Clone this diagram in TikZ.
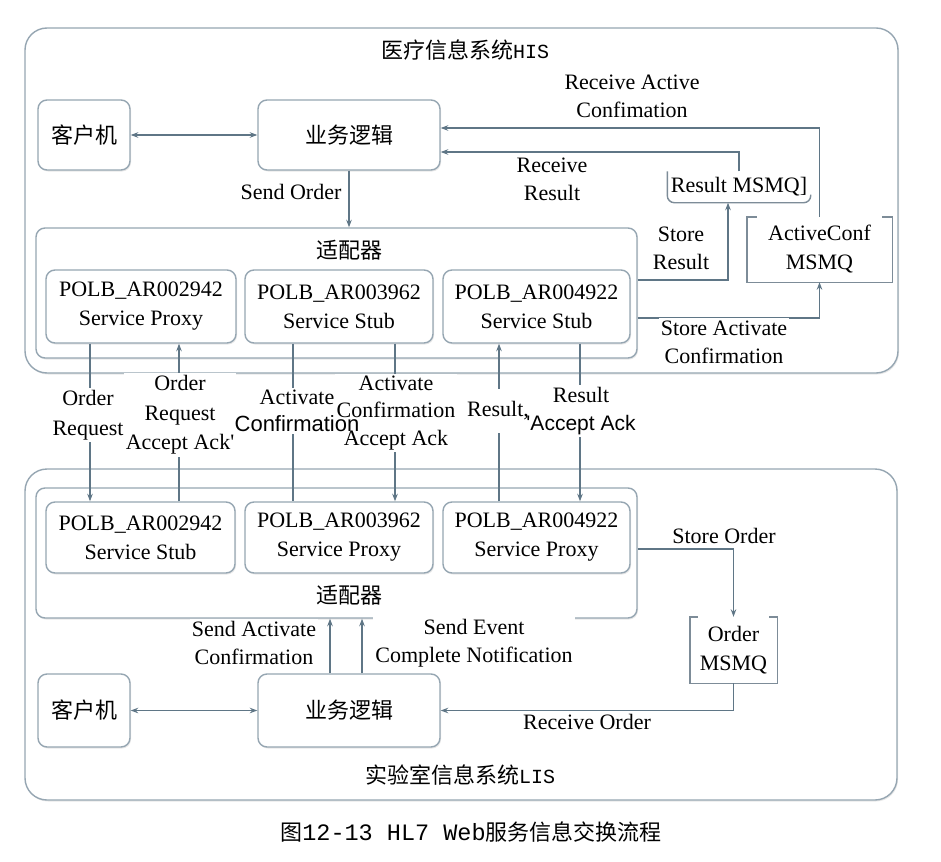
\documentclass[tikz,border=0pt]{standalone}
\usepackage{fontspec}
\setmainfont{Liberation Serif}
\setsansfont{Liberation Sans}
\setmonofont{Liberation Mono}
\newfontfamily\cjk{Noto Sans CJK SC}
\usetikzlibrary{arrows.meta,shadows}
\pgfdeclarelayer{bg}
\pgfsetlayers{bg,main}
\definecolor{boxc}{RGB}{150,166,178}
\definecolor{boxd}{RGB}{125,140,152}
\definecolor{linec}{RGB}{95,118,134}
\begin{document}
\begin{tikzpicture}[x=1pt,y=-1pt,
  box/.style={draw=boxc, fill=white, line width=1.4pt, rounded corners=9pt, inner sep=0pt, align=center,
    font=\fontsize{22}{29}\selectfont, drop shadow={shadow xshift=1pt, shadow yshift=-1.5pt, opacity=0.18}},
  outer/.style={box, rounded corners=22pt},
  plain/.style={inner sep=0pt, align=center, font=\fontsize{22}{29}\selectfont},
  lbl/.style={align=center, inner sep=2pt, font=\fontsize{22}{28}\selectfont},
  arr/.style={draw=linec, line width=1.2pt, -{Stealth[length=7.5pt,width=5.5pt]}},
  darr/.style={draw=linec, line width=1.2pt, {Stealth[length=7.5pt,width=5.5pt]}-{Stealth[length=7.5pt,width=5.5pt]}},
  ln/.style={draw=linec, line width=1.2pt},
  msq/.style={draw=boxd, line width=1.4pt}]
\useasboundingbox (0,0) rectangle (941,861);

\begin{pgfonlayer}{bg}
% outer systems
\node[outer, minimum width=873pt, minimum height=345pt] (his) at (461.5,200.5) {};
\node[outer, minimum width=872pt, minimum height=331pt] (lis) at (461,634.5) {};
% HIS
\node[box, minimum width=92pt, minimum height=70pt] (c1) at (84,135) {\cjk 客户机};
\node[box, minimum width=182pt, minimum height=70pt] (b1) at (349,135) {\cjk 业务逻辑};
\node[box, minimum width=601pt, minimum height=130pt] (ad1) at (336.5,293) {};
\node[box, minimum width=190pt, minimum height=73pt] (p1a) at (141,306.5) {POLB\_AR002942\\Service Proxy};
\node[box, minimum width=188pt, minimum height=73pt] (p1b) at (339,306.5) {POLB\_AR003962\\Service Stub};
\node[box, minimum width=187pt, minimum height=73pt] (p1c) at (536.5,306.5) {POLB\_AR004922\\Service Stub};
\node[plain, minimum width=143pt, minimum height=31pt] (rmq) at (739,187) {Result MSMQ]};
\node[plain, minimum width=145pt, minimum height=65pt] (acq) at (819.5,249.5) {ActiveConf\\MSMQ};
% LIS
\node[box, minimum width=601pt, minimum height=130pt] (ad2) at (336.5,553) {};
\node[box, minimum width=189pt, minimum height=71pt] (q1a) at (140.5,537.5) {POLB\_AR002942\\Service Stub};
\node[box, minimum width=188pt, minimum height=71pt] (q1b) at (339,537.5) {POLB\_AR003962\\Service Proxy};
\node[box, minimum width=187pt, minimum height=71pt] (q1c) at (536.5,537.5) {POLB\_AR004922\\Service Proxy};
\node[plain, minimum width=87pt, minimum height=66pt] (omq) at (733.5,650) {Order\\MSMQ};
\node[box, minimum width=92pt, minimum height=73pt] (c2) at (84,710.5) {\cjk 客户机};
\node[box, minimum width=182pt, minimum height=73pt] (b2) at (349,710.5) {\cjk 业务逻辑};

% queue shapes
\draw[msq, rounded corners=7pt] (rmq.north west) -- (rmq.south west) -- (rmq.south east) -- ([yshift=8pt]rmq.south east);
\draw[msq] ([xshift=10pt]acq.north west) -- (acq.north west) -- (acq.south west) -- (acq.south east) -- (acq.north east) -- ([xshift=-10pt]acq.north east);
\draw[msq] ([xshift=8pt]omq.north west) -- (omq.north west) -- (omq.south west) -- (omq.south east) -- (omq.north east) -- ([xshift=-8pt]omq.north east);

% connectors HIS
\draw[darr] (c1) -- (b1);
\draw[arr] (acq.north) |- ([yshift=7pt]b1.east);
\draw[arr] (rmq.north) |- ([yshift=-17pt]b1.east);
\draw[arr] (b1.south) -- (b1.south |- ad1.north);
\draw[arr] ([yshift=13pt]ad1.east) -| ([xshift=-11pt]rmq.south);
\draw[arr] ([yshift=-25pt]ad1.east) -| (acq.south);

% connectors between systems
\coordinate (v1) at (90,0);
\coordinate (v2) at (179,0);
\coordinate (v3) at (293,0);
\coordinate (v4) at (395,0);
\coordinate (v5) at (499,0);
\coordinate (v6) at (580,0);
\draw[arr] (v1 |- p1a.south) -- (v1 |- q1a.north);
\draw[arr] (v2 |- q1a.north) -- (v2 |- p1a.south);
\draw[ln]  (v3 |- p1b.south) -- (v3 |- q1b.north);
\draw[arr] (v4 |- p1b.south) -- (v4 |- q1b.north);
\draw[arr] (v5 |- q1c.north) -- (v5 |- p1c.south);
\draw[arr] (v6 |- p1c.south) -- (v6 |- q1c.north);

% connectors LIS
\draw[arr] ([yshift=4pt]ad2.east) -| (omq.north);
\draw[arr] (omq.south) |- (b2.east);
\draw[darr] (c2) -- (b2);
\coordinate (sa) at ([xshift=-19pt]b2.north);
\coordinate (se) at ([xshift=13pt]b2.north);
\draw[arr] (sa) -- (sa |- ad2.south);
\draw[arr] (se) -- (se |- ad2.south);
\end{pgfonlayer}

% titles
\node[plain] (hist) at (465,50) {{\cjk 医疗信息系统}{\fontsize{20}{24}\selectfont\ttfamily HIS}};
\node[plain] (ad1t) at (349,250) {\cjk 适配器};
\node[plain] (ad2t) at (349,595) {\cjk 适配器};
\node[plain] (list) at (460,775) {{\cjk 实验室信息系统}{\fontsize{20}{24}\selectfont\ttfamily LIS}};
\node[plain] (cap) at (471,832) {{\cjk 图}{\fontsize{23.5}{28}\selectfont\ttfamily 12-13 HL7 Web}{\cjk 服务信息交换流程}};

% labels
\node[lbl] (lRA) at (632,96) {Receive Active\\Confimation};
\node[lbl] (lRR) at (552,179) {Receive\\Result};
\node[lbl] (lSO) at (291,192) {Send Order};
\node[lbl] (lSR) at (681,248) {Store\\Result};
\node[lbl] (lSA) at (724,342) {Store Activate\\Confirmation};
\node[lbl, font=\fontsize{22}{30}\selectfont] (L1) at (88,415) {Order\\Request};
\node[lbl, font=\fontsize{22}{29.5}\selectfont] (L2) at (180,415) {Order\\Request\\Accept Ack\textquotesingle};
\node[lbl, font=\fontsize{22}{27}\selectfont] (L3) at (297,411) {Activate\\{\sffamily Confirmation}};
\node[lbl, font=\fontsize{22}{27.5}\selectfont] (L4) at (396,413) {Activate\\Confirmation\\Accept Ack};
\node[lbl, inner ysep=12pt] (L5) at (498,411) {Result,};
\node[lbl] (L6) at (581,411) {Result\\{\sffamily\fontsize{21}{28}\selectfont \textquotesingle Accept Ack}};
\node[lbl] (lSt) at (724,536) {Store Order};
\node[lbl] (lRO) at (587,722) {Receive Order};
\node[lbl] (lSAC) at (254,643) {Send Activate\\Confirmation};
\node[lbl] (lSE) at (474,643) {Send Event\\Complete Notification};

% white backgrounds behind labels (gaps in lines)
\begin{pgfonlayer}{bg}
\foreach \n in {lRA,lRR,lSA,L1,L2,L3,L4,L5,L6,lRO,lSAC,lSE}
  \fill[white] (\n.south west) rectangle (\n.north east);
\end{pgfonlayer}
\end{tikzpicture}
\end{document}
